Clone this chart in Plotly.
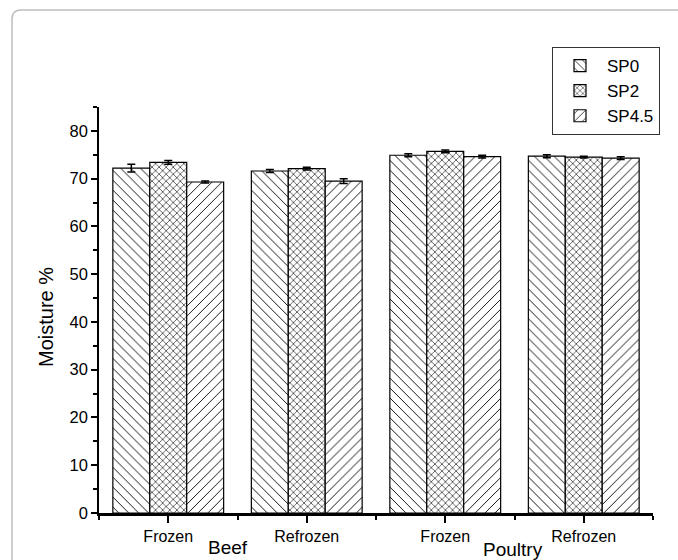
import plotly.graph_objects as go

categories = ["Frozen", "Refrozen", "Frozen", "Refrozen"]
groups = ["Beef", "Poultry"]
series_names = ["SP0", "SP2", "SP4.5"]
sp0 = [72.2, 71.6, 74.9, 74.7]
sp2 = [73.4, 72.1, 75.7, 74.5]
sp45 = [69.3, 69.5, 74.6, 74.3]
sp0_err = [0.8, 0.3, 0.3, 0.3]
sp2_err = [0.4, 0.3, 0.3, 0.2]
sp45_err = [0.2, 0.5, 0.3, 0.3]

W, H = 678, 560
ML, MR, MT, MB = 99, 25, 107, 47
PW, PH = W - ML - MR, H - MT - MB

def px(x):
    return (x - ML) / PW

def py(y):
    return (H - MB - y) / PH

xpos = list(range(len(categories)))
values = [sp0, sp2, sp45]
errors = [sp0_err, sp2_err, sp45_err]
shapes_pat = ["\\", "x", "/"]
sizes_pat = [7, 5, 7]
solid_pat = [0.13, 0.22, 0.13]

fig = go.Figure()
for name, v, e, sh, sz, so in zip(series_names, values, errors, shapes_pat, sizes_pat, solid_pat):
    fig.add_trace(go.Bar(
        x=xpos, y=v, name=name,
        marker=dict(color="white", line=dict(color="black", width=1.2),
                    pattern=dict(shape=sh, size=sz, solidity=so,
                                 fgcolor="black", bgcolor="white", fillmode="replace")),
        error_y=dict(type="data", array=e, visible=True, color="black",
                     thickness=1.5, width=4),
    ))

# card border
border = (f"M {px(12)},{py(570)} L {px(12)},{py(19)} "
          f"Q {px(12)},{py(10)} {px(21)},{py(10)} L {px(700)},{py(10)}")

fig.update_layout(
    width=W, height=H,
    margin=dict(l=ML, r=MR, t=MT, b=MB, autoexpand=False),
    paper_bgcolor="white", plot_bgcolor="white",
    barmode="group", bargap=0.2, bargroupgap=0,
    font=dict(family="Liberation Sans, Arial, sans-serif", color="black"),
    showlegend=True,
    legend=dict(x=px(552), y=py(47), xanchor="left", yanchor="top",
                bordercolor="#333", borderwidth=1, bgcolor="white",
                font=dict(size=17), tracegroupgap=0, itemwidth=44),
    xaxis=dict(range=[-0.5, 3.5], tickvals=xpos, ticktext=categories,
               showgrid=False, zeroline=False, showline=True, linecolor="black",
               linewidth=2.5, ticks="outside", ticklen=7, tickwidth=1.5,
               tickcolor="black", tickfont=dict(size=16),
               minor=dict(tick0=-0.5, dtick=1, ticks="outside", ticklen=4,
                          tickwidth=1.5, tickcolor="black")),
    yaxis=dict(range=[0, 85], tick0=0, dtick=10, showgrid=False, zeroline=False,
               showline=True, linecolor="black", linewidth=1.5,
               ticks="outside", ticklen=6, tickwidth=1.5, tickcolor="black",
               tickfont=dict(size=16.5),
               minor=dict(tick0=5, dtick=10, ticks="outside", ticklen=4,
                          tickwidth=1.5, tickcolor="black")),
    shapes=[dict(type="path", path=border, xref="paper", yref="paper",
                 line=dict(color="#bdbdbd", width=1.5), layer="below")],
    annotations=[
        dict(text="Moisture %", x=px(46), y=py(317), xref="paper", yref="paper",
             textangle=-90, showarrow=False, font=dict(size=20),
             xanchor="center", yanchor="middle"),
        dict(text=groups[0], x=px(228), y=py(547), xref="paper", yref="paper",
             showarrow=False, font=dict(size=19), xanchor="center", yanchor="middle"),
        dict(text=groups[1], x=px(513), y=py(549), xref="paper", yref="paper",
             showarrow=False, font=dict(size=19), xanchor="center", yanchor="middle"),
    ],
)

fig.write_html("out.html", config={"displayModeBar": False},
               post_script="document.body.style.margin='0';document.body.style.overflow='hidden';")
